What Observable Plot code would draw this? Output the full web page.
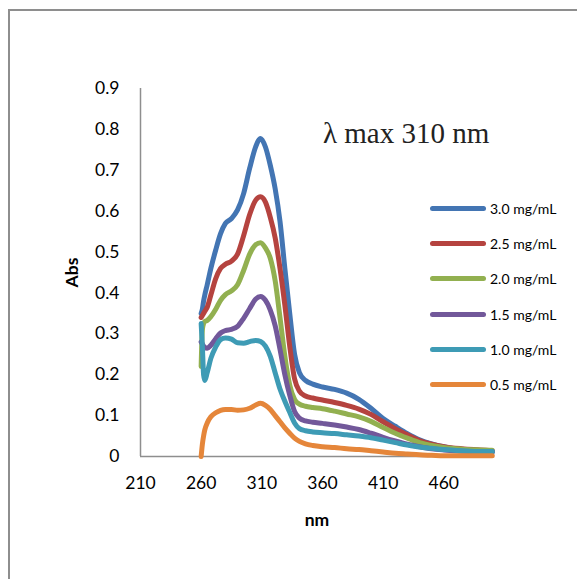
<!DOCTYPE html>
<html><head><meta charset="utf-8">
<script src="https://cdn.jsdelivr.net/npm/d3@7"></script>
<script src="https://cdn.jsdelivr.net/npm/@observablehq/plot@0.6"></script>
<style>
html,body{margin:0;padding:0;background:#fff;overflow:hidden;}
#wrap{position:relative;width:577px;height:579px;overflow:hidden;background:#fff;}
#chart{position:absolute;left:0;top:0;}
#frame{position:absolute;left:8px;top:9px;width:800px;height:800px;border-left:2px solid #8e8e8e;border-top:2px solid #8e8e8e;pointer-events:none;}
#note{position:absolute;left:323px;top:119px;font-family:"Liberation Serif","Times New Roman",serif;font-size:29px;color:#222;white-space:nowrap;line-height:1;}
#legend{position:absolute;left:430px;top:191px;font-family:Lato,sans-serif;font-size:14px;color:#000;}
#legend .row{display:flex;align-items:center;height:35.2px;}
#legend .sw{width:56px;height:5px;border-radius:3px;margin-right:4px;}
#chart g[aria-label$="axis label"] text{font-weight:bold;}
</style>
</head><body>
<div id="wrap">
  <div id="chart"></div>
  <div id="frame"></div>
  <div id="note">λ max 310 nm</div>
  <div id="legend"></div>
</div>
<script>
// Wavelength grid (nm)
const wavelengths = [260, 261, 262, 263, 265, 268, 272, 276, 280, 285, 290, 295, 300, 305, 309, 313, 317, 321, 325, 329, 333, 337, 341, 346, 352, 360, 370, 380, 390, 400, 410, 420, 430, 440, 450, 460, 475, 490, 500];

// Absorbance series
const abs30 = [0.35, 0.36, 0.38, 0.395, 0.42, 0.46, 0.505, 0.545, 0.57, 0.582, 0.603, 0.643, 0.705, 0.758, 0.778, 0.757, 0.712, 0.655, 0.575, 0.46, 0.35, 0.25, 0.205, 0.186, 0.177, 0.17, 0.164, 0.155, 0.14, 0.118, 0.093, 0.074, 0.056, 0.041, 0.031, 0.024, 0.016, 0.012, 0.01];
const abs25 = [0.34, 0.345, 0.35, 0.355, 0.365, 0.395, 0.435, 0.46, 0.47, 0.478, 0.495, 0.54, 0.592, 0.627, 0.635, 0.622, 0.585, 0.535, 0.46, 0.37, 0.27, 0.19, 0.16, 0.148, 0.143, 0.138, 0.132, 0.125, 0.116, 0.103, 0.085, 0.068, 0.053, 0.039, 0.03, 0.024, 0.019, 0.016, 0.014];
const abs20 = [0.22, 0.31, 0.325, 0.33, 0.333, 0.342, 0.36, 0.382, 0.396, 0.405, 0.42, 0.455, 0.495, 0.518, 0.523, 0.51, 0.485, 0.43, 0.34, 0.245, 0.175, 0.14, 0.128, 0.123, 0.12, 0.117, 0.111, 0.104, 0.097, 0.086, 0.071, 0.057, 0.045, 0.034, 0.027, 0.022, 0.018, 0.016, 0.015];
const abs15 = [0.28, 0.275, 0.27, 0.267, 0.265, 0.272, 0.288, 0.302, 0.308, 0.311, 0.318, 0.338, 0.362, 0.385, 0.391, 0.382, 0.358, 0.32, 0.262, 0.2, 0.15, 0.11, 0.094, 0.087, 0.084, 0.081, 0.077, 0.072, 0.066, 0.057, 0.047, 0.038, 0.03, 0.024, 0.019, 0.016, 0.013, 0.012, 0.012];
const abs10 = [0.325, 0.27, 0.2, 0.186, 0.205, 0.24, 0.268, 0.286, 0.29, 0.287, 0.278, 0.277, 0.281, 0.284, 0.281, 0.27, 0.245, 0.205, 0.165, 0.135, 0.108, 0.082, 0.068, 0.063, 0.06, 0.058, 0.056, 0.053, 0.05, 0.046, 0.04, 0.034, 0.028, 0.023, 0.02, 0.017, 0.014, 0.012, 0.012];
const abs05 = [0, 0.03, 0.05, 0.065, 0.082, 0.097, 0.107, 0.113, 0.115, 0.115, 0.113, 0.114, 0.118, 0.126, 0.13, 0.125, 0.115, 0.1, 0.085, 0.07, 0.057, 0.045, 0.037, 0.031, 0.027, 0.024, 0.022, 0.019, 0.017, 0.014, 0.011, 0.008, 0.006, 0.004, 0.003, 0.002, 0.002, 0.002, 0.002];

const seriesLabels = ["3.0 mg/mL", "2.5 mg/mL", "2.0 mg/mL", "1.5 mg/mL", "1.0 mg/mL", "0.5 mg/mL"];
const seriesValues = [abs30, abs25, abs20, abs15, abs10, abs05];
const seriesColors = ["#4375B3", "#B5433F", "#92B050", "#72589A", "#3E9BB5", "#E5863A"];

const xTicks = [210, 260, 310, 360, 410, 460];
const yTicks = [0, 0.1, 0.2, 0.3, 0.4, 0.5, 0.6, 0.7, 0.8, 0.9];

const rows = [];
seriesLabels.forEach((s, i) => {
  wavelengths.forEach((w, j) => rows.push({nm: w, abs: seriesValues[i][j], series: s}));
});

const chart = Plot.plot({
  width: 577,
  height: 579,
  marginLeft: 140,
  marginRight: 84,
  marginTop: 88,
  marginBottom: 123,
  style: {fontFamily: "Lato, sans-serif", fontSize: "17.5px", color: "#000", background: "transparent", overflow: "visible"},
  x: {domain: [210, 501], ticks: xTicks, tickSize: 0, tickPadding: 20, tickFormat: d => String(d), label: "nm", labelAnchor: "center", labelOffset: 69, labelArrow: "none"},
  y: {domain: [0, 0.9], ticks: yTicks, tickSize: 0, tickPadding: 21, tickFormat: d => d === 0 ? "0" : d.toFixed(1), label: "Abs", labelAnchor: "center", labelOffset: 75, labelArrow: "none"},
  color: {domain: seriesLabels, range: seriesColors},
  marks: [
    Plot.ruleX([210], {stroke: "#8e8e8e", strokeWidth: 1.5}),
    Plot.ruleY([0], {stroke: "#8e8e8e", strokeWidth: 1.5}),
    Plot.line(rows, {x: "nm", y: "abs", z: "series", stroke: "series", strokeWidth: 5, curve: "monotone-x", strokeLinecap: "round", strokeLinejoin: "round"})
  ]
});
document.getElementById("chart").appendChild(chart);

const legend = document.getElementById("legend");
seriesLabels.forEach((s, i) => {
  const row = document.createElement("div");
  row.className = "row";
  const sw = document.createElement("div");
  sw.className = "sw";
  sw.style.background = seriesColors[i];
  const t = document.createElement("span");
  t.textContent = s;
  row.appendChild(sw);
  row.appendChild(t);
  legend.appendChild(row);
});
</script>
</body></html>
